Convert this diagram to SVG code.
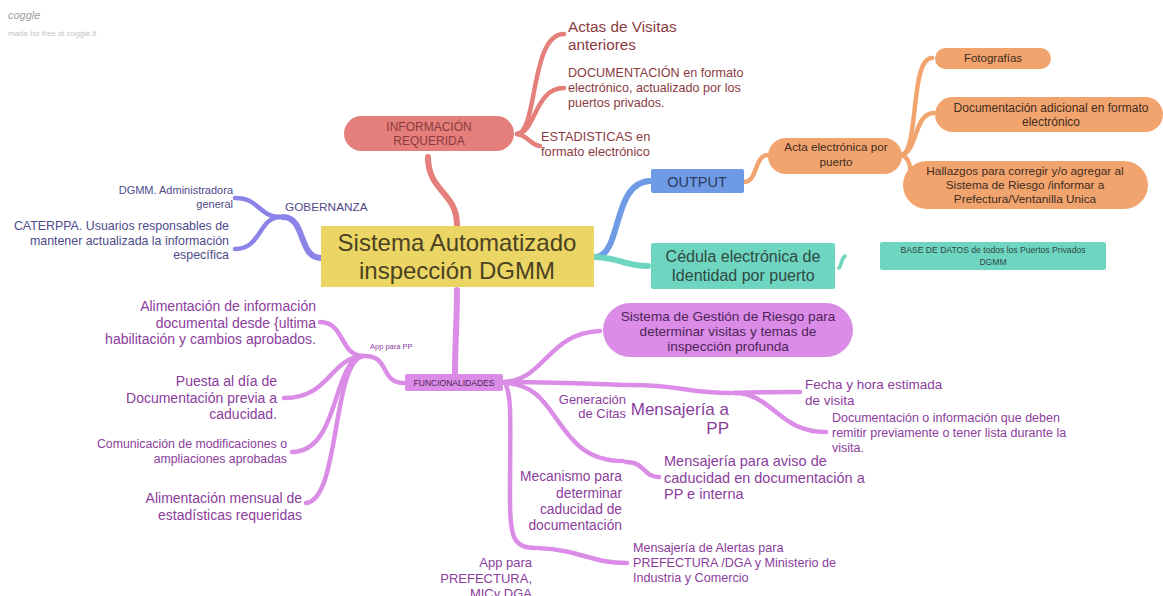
<svg xmlns="http://www.w3.org/2000/svg" width="1163" height="596" viewBox="0 0 1163 596">
<style>
text{font-family:"Liberation Sans",Arial,sans-serif}
.br{fill:none;stroke-linecap:round;stroke-linejoin:round}
.red{stroke:#E47F7B}
.gob{stroke:#8C83E8}
.blue{stroke:#6F9BE6}
.org{stroke:#F2A46F}
.teal{stroke:#6ED5C1}
.pur{stroke:#DA8CE6}
.tred{fill:#8B3B3F}
.tgob{fill:#4E4A8A}
.tpur{fill:#8B3D9C}
.torg{fill:#3E2C20}
.mid{text-anchor:middle}
.end{text-anchor:end}
</style>
<rect width="1163" height="596" fill="#ffffff"/>
<g id="logo">
<text x="8" y="19" font-size="11" font-style="italic" fill="#a0a0a0">coggle</text>
<text x="8" y="36" font-size="8" fill="#c4c4c4">made for free at coggle.it</text>
</g>
<g id="connectors">
<path class="br red" stroke-width="6" d="M457,225 C457,192 428,192 428,157"/>
<path class="br red" stroke-width="4.5" d="M517,134 C538,132 530,34 564,34"/>
<path class="br red" stroke-width="4.5" d="M517,134 C536,133 534,88 564,88"/>
<path class="br red" stroke-width="4.5" d="M517,134 C529,136 530,145 540,146"/>
<path class="br gob" stroke-width="6" d="M321,258 C298,258 306,217 283,217"/>
<path class="br gob" stroke-width="4.5" d="M281,217 C258,217 260,198 235,198"/>
<path class="br gob" stroke-width="4.5" d="M281,217 C258,217 262,249 235,249"/>
<path class="br blue" stroke-width="6" d="M596,257 C622,255 612,182 650,181"/>
<path class="br teal" stroke-width="6" d="M596,257 C620,258 626,266 648,266"/>
<path class="br org" stroke-width="4.5" d="M744,182 C758,182 754,155 768,155"/>
<path class="br org" stroke-width="4.5" d="M902,155 C919,150 910,58 932,58"/>
<path class="br org" stroke-width="4.5" d="M902,155 C918,150 914,113 934,113"/>
<path class="br org" stroke-width="4.5" d="M902,155 C913,160 912,180 906,186"/>
<path class="br teal" stroke-width="3.5" d="M839,268 C842,264 841,259 845,256"/>
<path class="br pur" stroke-width="6" d="M457,290 C457,320 455,345 455,372"/>
<path class="br pur" stroke-width="4.5" d="M404,383 C380,383 390,356 365,356"/>
<path class="br pur" stroke-width="4.5" d="M363,356 C340,356 345,322 320,322"/>
<path class="br pur" stroke-width="4.5" d="M363,356 C330,358 330,398 284,398"/>
<path class="br pur" stroke-width="4.5" d="M363,356 C332,360 340,452 292,452"/>
<path class="br pur" stroke-width="4.5" d="M363,356 C332,362 340,500 306,503"/>
<path class="br pur" stroke-width="4.5" d="M504,382 C545,380 548,333 600,331"/>
<path class="br pur" stroke-width="4.5" d="M504,382 C560,382 600,384 628,385"/>
<path class="br pur" stroke-width="4.5" d="M631,385 C680,385 688,393 730,393"/>
<path class="br pur" stroke-width="4.5" d="M733,393 C760,392 780,392 800,392"/>
<path class="br pur" stroke-width="4.5" d="M735,393 C772,393 778,432 826,432"/>
<path class="br pur" stroke-width="4.5" d="M504,383 C562,383 552,461 623,461"/>
<path class="br pur" stroke-width="4.5" d="M626,462 C645,462 643,477 659,477"/>
<path class="br pur" stroke-width="4.5" d="M506,385 C512,400 510,420 510,500 C510,538 514,548 535,548"/>
<path class="br pur" stroke-width="4.5" d="M538,548 C582,550 590,563 627,563"/>
</g>
<g id="center">
<rect x="321" y="226" width="273" height="61" fill="#EAD565"/>
<text x="457" y="251" font-size="24" class="mid" fill="#4A4222">Sistema Automatizado</text>
<text x="457" y="279" font-size="24" class="mid" fill="#4A4222">inspección DGMM</text>
</g>
<g id="informacion">
<rect x="344" y="116" width="170" height="35" rx="17.5" fill="#E47F7B"/>
<text x="429" y="131" font-size="12" class="mid tred">INFORMACIÓN</text>
<text x="429" y="145" font-size="12" class="mid tred">REQUERIDA</text>
</g>
<g id="actas">
<text x="568" y="32" font-size="15.3" class="tred">Actas de Visitas</text>
<text x="568" y="50" font-size="15.3" class="tred">anteriores</text>
</g>
<g id="documentacion">
<text x="568" y="77" font-size="12.6" class="tred">DOCUMENTACIÓN en formato</text>
<text x="568" y="92" font-size="12.6" class="tred">electrónico, actualizado por los</text>
<text x="568" y="107" font-size="12.6" class="tred">puertos privados.</text>
</g>
<g id="estadisticas">
<text x="541" y="141" font-size="12.8" class="tred">ESTADISTICAS en</text>
<text x="541" y="156" font-size="12.8" class="tred">formato electrónico</text>
</g>
<g id="gobernanza">
<text x="285" y="211" font-size="11.8" class="tgob">GOBERNANZA</text>
</g>
<g id="dgmm">
<text x="233" y="194" font-size="11" class="end tgob">DGMM. Administradora</text>
<text x="233" y="208" font-size="11" class="end tgob">general</text>
</g>
<g id="caterppa">
<text x="229" y="230" font-size="12.4" class="end tgob">CATERPPA. Usuarios responsables de</text>
<text x="229" y="245" font-size="12.4" class="end tgob">mantener actualizada la información</text>
<text x="229" y="259" font-size="12.4" class="end tgob">específica</text>
</g>
<g id="output">
<rect x="651" y="169" width="93" height="24" rx="2" fill="#6F9BE6"/>
<text x="697" y="187" font-size="14.5" class="mid" fill="#2B3A5C">OUTPUT</text>
</g>
<g id="acta">
<rect x="768" y="138" width="134" height="36" rx="18" fill="#F2A46F"/>
<text x="836" y="151" font-size="11.7" class="mid torg">Acta electrónica por</text>
<text x="836" y="166" font-size="11.7" class="mid torg">puerto</text>
</g>
<g id="fotografias">
<rect x="935" y="48" width="116" height="21" rx="10.5" fill="#F2A46F"/>
<text x="993" y="62" font-size="11.5" class="mid torg">Fotografías</text>
</g>
<g id="docadicional">
<rect x="935" y="97" width="228" height="35" rx="17.5" fill="#F2A46F"/>
<text x="1051" y="112" font-size="12" class="mid torg">Documentación adicional en formato</text>
<text x="1051" y="126" font-size="12" class="mid torg">electrónico</text>
</g>
<g id="hallazgos">
<rect x="903" y="161" width="245" height="48" rx="24" fill="#F2A46F"/>
<text x="1025" y="175" font-size="11.8" class="mid torg">Hallazgos para corregir y/o agregar al</text>
<text x="1025" y="189" font-size="11.8" class="mid torg">Sistema de Riesgo /informar a</text>
<text x="1025" y="203" font-size="11.8" class="mid torg">Prefectura/Ventanilla Unica</text>
</g>
<g id="cedula">
<rect x="651" y="243" width="184" height="46" rx="2" fill="#6ED5C1"/>
<text x="743" y="262" font-size="16" class="mid" fill="#2E4A42">Cédula electrónica de</text>
<text x="743" y="281" font-size="16" class="mid" fill="#2E4A42">Identidad por puerto</text>
</g>
<g id="basedatos">
<rect x="880" y="242" width="226" height="28" rx="2" fill="#6ED5C1"/>
<text x="993" y="253" font-size="8.6" class="mid" fill="#2E4A42">BASE DE DATOS de todos los Puertos Privados</text>
<text x="993" y="265" font-size="8.6" class="mid" fill="#2E4A42">DGMM</text>
</g>
<g id="funcionalidades">
<rect x="405" y="374" width="98" height="17" rx="2" fill="#DA8CE6"/>
<text x="454" y="385.5" font-size="8.5" class="mid" fill="#4D2357">FUNCIONALIDADES</text>
</g>
<g id="appparapp">
<text x="370" y="349" font-size="7.5" class="tpur">App para PP</text>
</g>
<g id="alimentacion">
<text x="316" y="311" font-size="14" class="end tpur">Alimentación de información</text>
<text x="316" y="328" font-size="14" class="end tpur">documental desde {ultima</text>
<text x="316" y="344" font-size="14" class="end tpur">habilitación y cambios aprobados.</text>
</g>
<g id="puesta">
<text x="277" y="386" font-size="14" class="end tpur">Puesta al día de</text>
<text x="277" y="403" font-size="14" class="end tpur">Documentación previa a</text>
<text x="277" y="419" font-size="14" class="end tpur">caducidad.</text>
</g>
<g id="comunicacion">
<text x="287" y="448" font-size="12.3" class="end tpur">Comunicación de modificaciones o</text>
<text x="287" y="463" font-size="12.3" class="end tpur">ampliaciones aprobadas</text>
</g>
<g id="mensual">
<text x="302" y="503" font-size="14" class="end tpur">Alimentación mensual de</text>
<text x="302" y="520" font-size="14" class="end tpur">estadísticas requeridas</text>
</g>
<g id="riesgo">
<rect x="603" y="303" width="250" height="54" rx="27" fill="#DA8CE6"/>
<text x="728" y="321" font-size="13.6" class="mid" fill="#4D2357">Sistema de Gestión de Riesgo para</text>
<text x="728" y="336" font-size="13.6" class="mid" fill="#4D2357">determinar visitas y temas de</text>
<text x="728" y="351" font-size="13.6" class="mid" fill="#4D2357">inspección profunda</text>
</g>
<g id="generacion">
<text x="626" y="404" font-size="13" class="end tpur">Generación</text>
<text x="626" y="418" font-size="13" class="end tpur">de Citas</text>
</g>
<g id="mensajeriapp">
<text x="729" y="415" font-size="17" class="end tpur">Mensajería a</text>
<text x="729" y="434" font-size="17" class="end tpur">PP</text>
</g>
<g id="fecha">
<text x="805" y="389" font-size="13.5" class="tpur">Fecha y hora estimada</text>
<text x="805" y="405" font-size="13.5" class="tpur">de visita</text>
</g>
<g id="docvisita">
<text x="832" y="422" font-size="12.5" class="tpur">Documentación o información que deben</text>
<text x="832" y="437" font-size="12.5" class="tpur">remitir previamente o tener lista durante la</text>
<text x="832" y="452" font-size="12.5" class="tpur">visita.</text>
</g>
<g id="mecanismo">
<text x="622" y="481" font-size="13.8" class="end tpur">Mecanismo para</text>
<text x="622" y="498" font-size="13.8" class="end tpur">determinar</text>
<text x="622" y="514" font-size="13.8" class="end tpur">caducidad de</text>
<text x="622" y="530" font-size="13.8" class="end tpur">documentación</text>
</g>
<g id="aviso">
<text x="664" y="466" font-size="14.5" class="tpur">Mensajería para aviso de</text>
<text x="664" y="483" font-size="14.5" class="tpur">caducidad en documentación a</text>
<text x="664" y="499" font-size="14.5" class="tpur">PP e interna</text>
</g>
<g id="appprefectura">
<text x="532" y="567" font-size="13" class="end tpur">App para</text>
<text x="532" y="583" font-size="13" class="end tpur">PREFECTURA,</text>
<text x="532" y="598" font-size="13" class="end tpur">MICy DGA</text>
</g>
<g id="alertas">
<text x="633" y="552" font-size="12.6" class="tpur">Mensajería de Alertas para</text>
<text x="633" y="567" font-size="12.6" class="tpur">PREFECTURA /DGA y Ministerio de</text>
<text x="633" y="582" font-size="12.6" class="tpur">Industria y Comercio</text>
</g>
</svg>
